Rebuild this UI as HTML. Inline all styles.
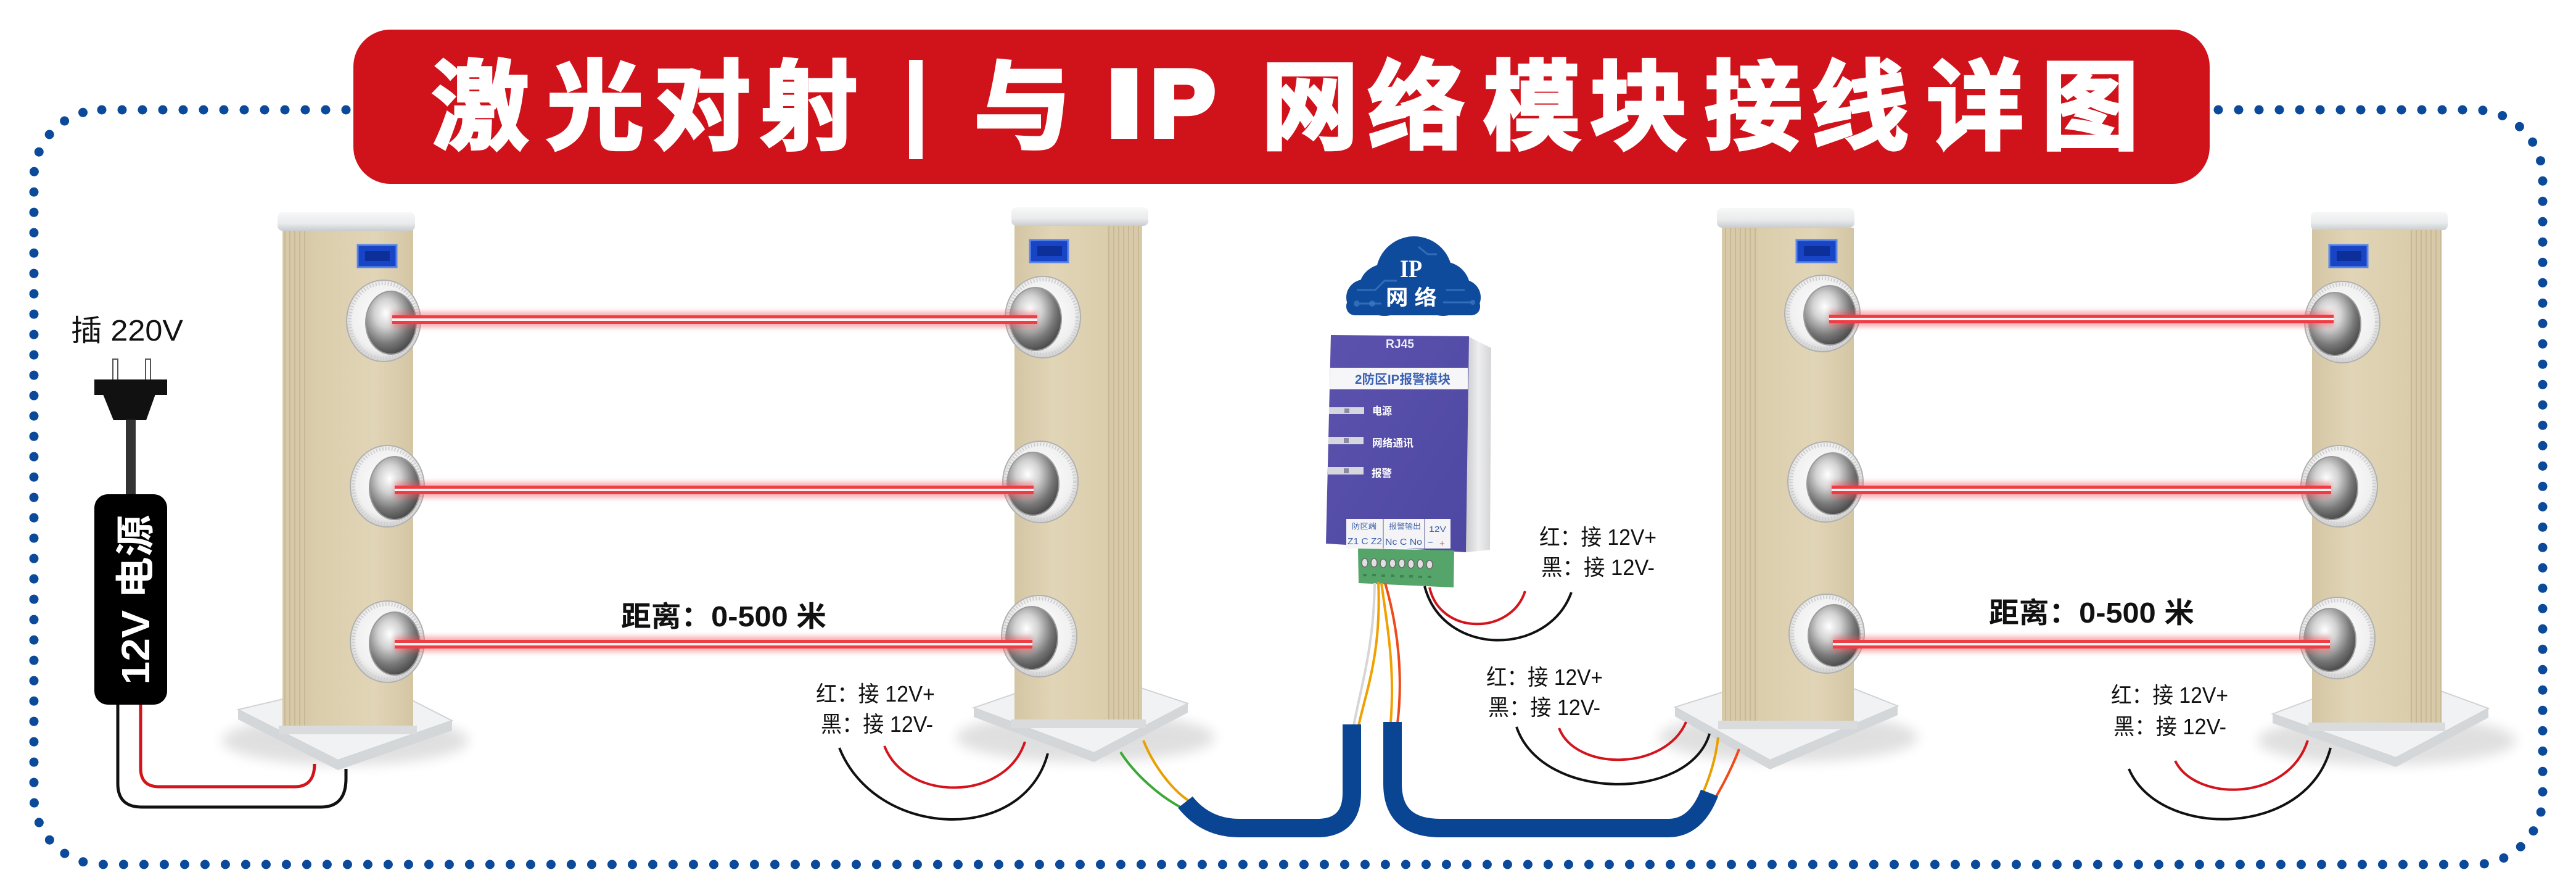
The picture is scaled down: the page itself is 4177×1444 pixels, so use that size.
<!DOCTYPE html>
<html><head><meta charset="utf-8"><style>
html,body{margin:0;padding:0;background:#fff;}
svg{display:block;}
</style></head><body>
<svg width="4177" height="1444" viewBox="0 0 4177 1444" xmlns="http://www.w3.org/2000/svg">
<defs>
  <linearGradient id="bodyL" x1="0" x2="1" y1="0" y2="0">
    <stop offset="0" stop-color="#d0c09d"/><stop offset="0.25" stop-color="#dacdab"/>
    <stop offset="0.7" stop-color="#e1d5b7"/><stop offset="1" stop-color="#d4c6a4"/>
  </linearGradient>
  <linearGradient id="bodyR" x1="0" x2="1" y1="0" y2="0">
    <stop offset="0" stop-color="#d4c6a4"/><stop offset="0.3" stop-color="#e1d5b7"/>
    <stop offset="0.75" stop-color="#dacdab"/><stop offset="1" stop-color="#d0c09d"/>
  </linearGradient>
  <pattern id="ridge" patternUnits="userSpaceOnUse" width="8" height="10">
    <rect width="8" height="10" fill="#d8caa8"/><rect x="5" width="2" height="10" fill="#c8b996"/>
  </pattern>
  <linearGradient id="cap" x1="0" x2="0" y1="0" y2="1">
    <stop offset="0" stop-color="#f7f8f8"/><stop offset="0.6" stop-color="#e9ebec"/><stop offset="1" stop-color="#c9cdcf"/>
  </linearGradient>
  <radialGradient id="ring" cx="0.5" cy="0.45" r="0.6">
    <stop offset="0" stop-color="#ffffff"/><stop offset="0.7" stop-color="#f0f0f0"/><stop offset="1" stop-color="#c4c4c4"/>
  </radialGradient>
  <radialGradient id="chrome" cx="0.4" cy="0.35" r="0.75">
    <stop offset="0" stop-color="#ffffff"/><stop offset="0.3" stop-color="#d2d2d2"/>
    <stop offset="0.65" stop-color="#777777"/><stop offset="1" stop-color="#353535"/>
  </radialGradient>
  <linearGradient id="module" x1="0" x2="1" y1="0" y2="1">
    <stop offset="0" stop-color="#5b52ad"/><stop offset="1" stop-color="#4e48a2"/>
  </linearGradient>
  <linearGradient id="side" x1="0" x2="1">
    <stop offset="0" stop-color="#c9cacc"/><stop offset="0.5" stop-color="#eeeeef"/><stop offset="1" stop-color="#d4d5d7"/>
  </linearGradient>
  <filter id="blur4" x="-5%" y="-100%" width="110%" height="300%"><feGaussianBlur stdDeviation="4"/></filter>
  <filter id="blur10" x="-20%" y="-50%" width="140%" height="200%"><feGaussianBlur stdDeviation="10"/></filter>
</defs>

<rect width="4177" height="1444" fill="#fff"/>

<!-- dotted border -->
<rect x="55" y="178" width="4068" height="1223" rx="110" ry="110" fill="none" stroke="#0b4a9a" stroke-width="15" stroke-dasharray="0 33" stroke-linecap="round"/>

<!-- banner -->
<rect x="573" y="48" width="3010" height="250" rx="60" ry="60" fill="#d0121b"/>
<g font-family="'Noto Sans CJK SC','WenQuanYi Zen Hei',sans-serif" font-weight="bold" font-size="158" fill="#fff" stroke="#fff" stroke-width="5">
  <text x="700" y="229">激</text>
  <text x="886" y="229">光</text>
  <text x="1059" y="229">对</text>
  <text x="1233" y="229">射</text>
  <text x="1579" y="229">与</text>
  <text x="2045" y="229">网</text>
  <text x="2218" y="229">络</text>
  <text x="2405" y="229">模</text>
  <text x="2578" y="229">块</text>
  <text x="2764" y="229">接</text>
  <text x="2937" y="229">线</text>
  <text x="3124" y="229">详</text>
  <text x="3310" y="229">图</text>
</g>
<rect x="1474" y="97" width="22" height="161" fill="#fff"/>
<g font-family="'Liberation Sans',sans-serif" font-weight="bold" font-size="152" fill="#fff" stroke="#fff" stroke-width="10">
  <text x="1795" y="220" textLength="56" lengthAdjust="spacingAndGlyphs">I</text>
  <text x="1866" y="220" textLength="104" lengthAdjust="spacingAndGlyphs">P</text>
</g>

<!-- ============ LEFT POWER ============ -->
<text x="115" y="552" font-family="'Liberation Sans','Noto Sans CJK SC',sans-serif" font-size="48" fill="#111" textLength="182" lengthAdjust="spacingAndGlyphs">插 220V</text>
<rect x="183" y="582" width="8" height="34" fill="#fff" stroke="#555" stroke-width="2"/>
<rect x="236" y="582" width="8" height="34" fill="#fff" stroke="#555" stroke-width="2"/>
<rect x="153" y="615" width="118" height="25" fill="#111"/>
<polygon points="167,639 252,639 237,681 184,681" fill="#111"/>
<rect x="204" y="680" width="16" height="122" fill="#333"/>
<rect x="153" y="801" width="118" height="341" rx="22" fill="#000"/>
<text transform="translate(242,972) rotate(-90)" text-anchor="middle" font-family="'Liberation Sans','Noto Sans CJK SC',sans-serif" font-weight="bold" font-size="64" fill="#fff" textLength="275" lengthAdjust="spacingAndGlyphs">12V 电源</text>
<path d="M191,1142 L191,1270 Q191,1308 230,1308 L520,1308 Q561,1308 561,1262 L561,1246" fill="none" stroke="#111" stroke-width="5"/>
<path d="M228,1142 L228,1245 Q228,1275 258,1275 L478,1275 Q510,1275 510,1238" fill="none" stroke="#d4141c" stroke-width="5"/>

<!-- ============ PILLAR 1 ============ -->
<ellipse cx="560" cy="1200" rx="200" ry="40" fill="#000" opacity="0.12" filter="url(#blur10)"/>
<polygon points="386,1150 600,1100 733,1168 548,1232" fill="#f1f2f3" stroke="#d0d3d5" stroke-width="2"/>
<polygon points="386,1150 548,1232 733,1168 733,1184 548,1248 386,1166" fill="#d3d7da"/>
<rect x="458" y="372" width="212" height="816" fill="url(#bodyL)"/>
<rect x="458" y="372" width="42" height="816" fill="url(#ridge)"/>
<rect x="452" y="1176" width="224" height="14" fill="#d9dbdd"/>
<rect x="450" y="344" width="223" height="30" rx="8" fill="url(#cap)"/>
<rect x="580" y="397" width="63" height="36" fill="#1845c5" stroke="#5b86e8" stroke-width="3"/>
<rect x="592" y="407" width="40" height="16" fill="#0d2f99"/>

<!-- ============ PILLAR 2 ============ -->
<ellipse cx="1760" cy="1195" rx="210" ry="40" fill="#000" opacity="0.12" filter="url(#blur10)"/>
<polygon points="1579,1147 1760,1085 1926,1140 1774,1220" fill="#f1f2f3" stroke="#d0d3d5" stroke-width="2"/>
<polygon points="1579,1147 1774,1220 1926,1140 1926,1155 1774,1235 1579,1162" fill="#d3d7da"/>
<rect x="1645" y="364" width="207" height="814" fill="url(#bodyR)"/>
<rect x="1795" y="364" width="57" height="814" fill="url(#ridge)"/>
<rect x="1639" y="1166" width="219" height="14" fill="#d9dbdd"/>
<rect x="1640" y="336" width="222" height="30" rx="8" fill="url(#cap)"/>
<rect x="1670" y="389" width="62" height="36" fill="#1845c5" stroke="#5b86e8" stroke-width="3"/>
<rect x="1682" y="399" width="40" height="16" fill="#0d2f99"/>

<!-- ============ PILLAR 3 ============ -->
<ellipse cx="2900" cy="1195" rx="210" ry="40" fill="#000" opacity="0.12" filter="url(#blur10)"/>
<polygon points="2716,1146 2920,1082 3077,1144 2870,1232" fill="#f1f2f3" stroke="#d0d3d5" stroke-width="2"/>
<polygon points="2716,1146 2870,1232 3077,1144 3077,1159 2870,1247 2716,1161" fill="#d3d7da"/>
<rect x="2792" y="369" width="214" height="811" fill="url(#bodyL)"/>
<rect x="2792" y="369" width="58" height="811" fill="url(#ridge)"/>
<rect x="2786" y="1168" width="226" height="14" fill="#d9dbdd"/>
<rect x="2784" y="337" width="223" height="32" rx="8" fill="url(#cap)"/>
<rect x="2913" y="389" width="65" height="36" fill="#1845c5" stroke="#5b86e8" stroke-width="3"/>
<rect x="2925" y="399" width="42" height="16" fill="#0d2f99"/>

<!-- ============ PILLAR 4 ============ -->
<ellipse cx="3870" cy="1200" rx="210" ry="40" fill="#000" opacity="0.12" filter="url(#blur10)"/>
<polygon points="3685,1157 3870,1088 4035,1148 3885,1228" fill="#f1f2f3" stroke="#d0d3d5" stroke-width="2"/>
<polygon points="3685,1157 3885,1228 4035,1148 4035,1163 3885,1243 3685,1172" fill="#d3d7da"/>
<rect x="3749" y="371" width="210" height="812" fill="url(#bodyR)"/>
<rect x="3908" y="371" width="51" height="812" fill="url(#ridge)"/>
<rect x="3743" y="1171" width="222" height="14" fill="#d9dbdd"/>
<rect x="3747" y="343" width="222" height="30" rx="8" fill="url(#cap)"/>
<rect x="3777" y="397" width="62" height="36" fill="#1845c5" stroke="#5b86e8" stroke-width="3"/>
<rect x="3789" y="407" width="40" height="16" fill="#0d2f99"/>

<!-- ============ LENSES ============ -->
<g stroke="#b0b0b0" stroke-width="2">
  <ellipse cx="622" cy="520" rx="60" ry="66" fill="url(#ring)"/>
  <ellipse cx="628" cy="788" rx="60" ry="66" fill="url(#ring)"/>
  <ellipse cx="628" cy="1040" rx="60" ry="66" fill="url(#ring)"/>
  <ellipse cx="1691" cy="514" rx="61" ry="66" fill="url(#ring)"/>
  <ellipse cx="1687" cy="781" rx="61" ry="66" fill="url(#ring)"/>
  <ellipse cx="1685" cy="1031" rx="61" ry="66" fill="url(#ring)"/>
  <ellipse cx="2955" cy="508" rx="61" ry="62" fill="url(#ring)"/>
  <ellipse cx="2960" cy="781" rx="61" ry="65" fill="url(#ring)"/>
  <ellipse cx="2962" cy="1027" rx="61" ry="64" fill="url(#ring)"/>
  <ellipse cx="3798" cy="522" rx="61" ry="66" fill="url(#ring)"/>
  <ellipse cx="3793" cy="788" rx="62" ry="66" fill="url(#ring)"/>
  <ellipse cx="3790" cy="1034" rx="61" ry="66" fill="url(#ring)"/>
</g>
<g fill="none" stroke="#cfcfcf" stroke-width="6" stroke-dasharray="2 3">
  <ellipse cx="622" cy="520" rx="55" ry="61"/><ellipse cx="628" cy="788" rx="55" ry="61"/><ellipse cx="628" cy="1040" rx="55" ry="61"/>
  <ellipse cx="1691" cy="514" rx="56" ry="61"/><ellipse cx="1687" cy="781" rx="56" ry="61"/><ellipse cx="1685" cy="1031" rx="56" ry="61"/>
  <ellipse cx="2955" cy="508" rx="56" ry="57"/><ellipse cx="2960" cy="781" rx="56" ry="60"/><ellipse cx="2962" cy="1027" rx="56" ry="59"/>
  <ellipse cx="3798" cy="522" rx="56" ry="61"/><ellipse cx="3793" cy="788" rx="57" ry="61"/><ellipse cx="3790" cy="1034" rx="56" ry="61"/>
</g>
<g fill="url(#chrome)" stroke="#9a9a9a" stroke-width="2">
  <ellipse cx="634" cy="523" rx="41" ry="51"/><ellipse cx="640" cy="791" rx="41" ry="51"/><ellipse cx="640" cy="1043" rx="41" ry="51"/>
  <ellipse cx="1679" cy="517" rx="42" ry="51"/><ellipse cx="1675" cy="784" rx="42" ry="51"/><ellipse cx="1673" cy="1034" rx="42" ry="51"/>
  <ellipse cx="2967" cy="511" rx="42" ry="48"/><ellipse cx="2972" cy="784" rx="42" ry="50"/><ellipse cx="2974" cy="1030" rx="42" ry="50"/>
  <ellipse cx="3786" cy="525" rx="42" ry="51"/><ellipse cx="3781" cy="791" rx="42" ry="51"/><ellipse cx="3778" cy="1037" rx="42" ry="51"/>
</g>

<!-- ============ BEAMS ============ -->
<g>
  <g opacity="0.45" filter="url(#blur4)" fill="#f25a60">
    <rect x="636" y="505" width="1046" height="26"/>
    <rect x="640" y="781" width="1036" height="26"/>
    <rect x="640" y="1031" width="1034" height="26"/>
    <rect x="2966" y="504" width="818" height="26"/>
    <rect x="2970" y="781" width="810" height="26"/>
    <rect x="2972" y="1031" width="806" height="26"/>
  </g>
  <g fill="#ee3d45">
    <rect x="636" y="511" width="1046" height="14"/>
    <rect x="640" y="787" width="1036" height="14"/>
    <rect x="640" y="1037" width="1034" height="14"/>
    <rect x="2966" y="510" width="818" height="14"/>
    <rect x="2970" y="787" width="810" height="14"/>
    <rect x="2972" y="1037" width="806" height="14"/>
  </g>
  <g fill="#fff3f3">
    <rect x="636" y="516" width="1046" height="4"/>
    <rect x="640" y="792" width="1036" height="4"/>
    <rect x="640" y="1042" width="1034" height="4"/>
    <rect x="2966" y="515" width="818" height="4"/>
    <rect x="2970" y="792" width="810" height="4"/>
    <rect x="2972" y="1042" width="806" height="4"/>
  </g>
</g>

<!-- distance labels -->
<g font-family="'Liberation Sans','Noto Sans CJK SC',sans-serif" font-weight="bold" font-size="46" fill="#111">
  <text x="1007" y="1015" textLength="333" lengthAdjust="spacingAndGlyphs">距离：0-500 米</text>
  <text x="3225" y="1009" textLength="333" lengthAdjust="spacingAndGlyphs">距离：0-500 米</text>
</g>

<!-- ============ CLOUD ============ -->
<g fill="#0f4b9c">
  <circle cx="2293" cy="445" r="62"/>
  <circle cx="2245" cy="470" r="42"/>
  <circle cx="2340" cy="468" r="44"/>
  <circle cx="2212" cy="482" r="29"/>
  <circle cx="2372" cy="482" r="29"/>
  <rect x="2205" y="470" width="170" height="41"/>
  <rect x="2183" y="482" width="217" height="29" rx="14"/>
</g>
<g stroke="#3d7bc6" stroke-width="3" fill="none" opacity="0.7">
  <path d="M2200,470 L2230,470 L2245,455 L2265,455"/>
  <path d="M2205,492 L2240,492"/>
  <path d="M2345,470 L2375,470"/>
  <path d="M2340,490 L2385,490"/>
  <path d="M2300,400 L2315,412 L2330,412"/>
</g>
<g fill="#3d7bc6" opacity="0.7"><circle cx="2200" cy="492" r="5"/><circle cx="2225" cy="492" r="5"/><circle cx="2388" cy="490" r="4"/></g>
<text x="2270" y="449" font-family="'Liberation Serif',serif" font-weight="bold" font-size="40" fill="#fff" textLength="36" lengthAdjust="spacingAndGlyphs">IP</text>
<text x="2247" y="494" font-family="'Liberation Sans','Noto Sans CJK SC',sans-serif" font-weight="bold" font-size="34" fill="#fff" textLength="83" lengthAdjust="spacingAndGlyphs">网 络</text>

<!-- ============ MODULE ============ -->
<polygon points="2380,545 2418,564 2416,891 2377,895" fill="url(#side)"/>
<polygon points="2158,543 2382,545 2377,895 2150,881" fill="url(#module)"/>
<text x="2247" y="564" font-family="'Liberation Sans',sans-serif" font-weight="bold" font-size="20" fill="#ececf4" textLength="46" lengthAdjust="spacingAndGlyphs">RJ45</text>
<polygon points="2157,596 2380,596 2380,631 2156,631" fill="#f6f6f8"/>
<text x="2197" y="622" font-family="'Liberation Sans','Noto Sans CJK SC',sans-serif" font-weight="bold" font-size="21" fill="#3d63b5" textLength="155" lengthAdjust="spacingAndGlyphs">2防区IP报警模块</text>
<g fill="#d6d6de"><rect x="2155" y="660" width="57" height="11"/><rect x="2154" y="708" width="57" height="12"/><rect x="2153" y="757" width="58" height="12"/></g>
<g fill="#8a8aa0"><rect x="2180" y="662" width="8" height="7"/><rect x="2179" y="710" width="8" height="8"/><rect x="2179" y="759" width="8" height="8"/></g>
<g font-family="'Liberation Sans','Noto Sans CJK SC',sans-serif" font-weight="bold" font-size="17" fill="#fff">
  <text x="2225" y="672" textLength="32" lengthAdjust="spacingAndGlyphs">电源</text>
  <text x="2225" y="724" textLength="67" lengthAdjust="spacingAndGlyphs">网络通讯</text>
  <text x="2224" y="773" textLength="33" lengthAdjust="spacingAndGlyphs">报警</text>
</g>
<rect x="2183" y="841" width="169" height="48" fill="#f4f4f7"/>
<line x1="2243" y1="841" x2="2243" y2="889" stroke="#8c8cb0" stroke-width="1.5"/>
<line x1="2310" y1="841" x2="2310" y2="889" stroke="#8c8cb0" stroke-width="1.5"/>
<g font-family="'Liberation Sans','Noto Sans CJK SC',sans-serif" fill="#3d5fa8">
  <text x="2192" y="857" font-size="12" textLength="40" lengthAdjust="spacingAndGlyphs">防区端</text>
  <text x="2252" y="857" font-size="12" textLength="52" lengthAdjust="spacingAndGlyphs">报警输出</text>
  <text x="2317" y="862" font-size="13" textLength="28" lengthAdjust="spacingAndGlyphs">12V</text>
  <text x="2185" y="882" font-size="15" textLength="56" lengthAdjust="spacingAndGlyphs">Z1 C Z2</text>
  <text x="2246" y="883" font-size="15" textLength="60" lengthAdjust="spacingAndGlyphs">Nc C No</text>
  <text x="2315" y="884" font-size="15">−</text>
  <text x="2334" y="886" font-size="15" fill="#d05a5a">+</text>
</g>
<polygon points="2202,889 2358,892 2357,952 2203,945" fill="#55a56a"/>
<g fill="#e0e0e0" stroke="#6a6a6a" stroke-width="1.5">
  <ellipse cx="2213" cy="912" rx="5" ry="7"/><ellipse cx="2228" cy="912" rx="5" ry="7"/><ellipse cx="2243" cy="913" rx="5" ry="7"/><ellipse cx="2258" cy="913" rx="5" ry="7"/>
  <ellipse cx="2273" cy="913" rx="5" ry="7"/><ellipse cx="2288" cy="914" rx="5" ry="7"/><ellipse cx="2303" cy="914" rx="5" ry="7"/><ellipse cx="2318" cy="915" rx="5" ry="7"/>
</g>
<g fill="#3c8350">
  <rect x="2210" y="930" width="6" height="4"/><rect x="2225" y="930" width="6" height="4"/><rect x="2240" y="931" width="6" height="4"/><rect x="2255" y="931" width="6" height="4"/>
  <rect x="2270" y="932" width="6" height="4"/><rect x="2285" y="932" width="6" height="4"/><rect x="2300" y="933" width="6" height="4"/><rect x="2315" y="933" width="6" height="4"/>
</g>

<!-- ============ WIRES ============ -->
<g fill="none" stroke-width="4">
  <path d="M2310,950 C2340,1065 2510,1065 2548,960" stroke="#111"/>
  <path d="M2318,952 C2335,1030 2450,1030 2473,958" stroke="#d4141c"/>
  <path d="M1361,1212 C1420,1360 1660,1370 1699,1221" stroke="#111"/>
  <path d="M1434,1209 C1470,1300 1630,1300 1662,1202" stroke="#d4141c"/>
  <path d="M2459,1178 C2500,1300 2740,1300 2772,1189" stroke="#111"/>
  <path d="M2528,1180 C2555,1250 2700,1250 2734,1170" stroke="#d4141c"/>
  <path d="M3452,1246 C3500,1360 3740,1360 3779,1212" stroke="#111"/>
  <path d="M3527,1233 C3560,1300 3710,1300 3742,1200" stroke="#d4141c"/>
  <path d="M2229,945 C2228,1050 2205,1120 2195,1176" stroke="#d6d6d6"/>
  <path d="M2235,943 C2240,1060 2215,1120 2203,1176" stroke="#f0a000"/>
  <path d="M2240,945 C2250,1020 2262,1080 2255,1172" stroke="#f0a000"/>
  <path d="M2246,945 C2268,1020 2275,1100 2266,1172" stroke="#ee4a1a"/>
  <path d="M1817,1219 C1840,1255 1880,1290 1914,1308" stroke="#3aaa35"/>
  <path d="M1854,1200 C1870,1240 1900,1280 1928,1298" stroke="#e8a000"/>
  <path d="M2786,1195 C2782,1230 2772,1260 2762,1283" stroke="#e8a000"/>
  <path d="M2820,1214 C2808,1245 2795,1270 2782,1292" stroke="#ee4a1a"/>
</g>

<!-- blue cables -->
<g fill="none" stroke="#0a4593" stroke-width="30">
  <path d="M1922,1300 Q1955,1342 2010,1342 L2135,1342 Q2192,1342 2192,1285 L2192,1174"/>
  <path d="M2258,1170 L2258,1270 Q2258,1342 2335,1342 L2705,1342 Q2750,1342 2772,1285"/>
</g>

<!-- 12V labels -->
<g font-family="'Liberation Sans','Noto Sans CJK SC',sans-serif" font-size="36" fill="#111">
  <text x="1323" y="1137" textLength="193" lengthAdjust="spacingAndGlyphs">红：接 12V+</text>
  <text x="1331" y="1186" textLength="182" lengthAdjust="spacingAndGlyphs">黑：接 12V-</text>
  <text x="2496" y="883" textLength="190" lengthAdjust="spacingAndGlyphs">红：接 12V+</text>
  <text x="2499" y="932" textLength="184" lengthAdjust="spacingAndGlyphs">黑：接 12V-</text>
  <text x="2410" y="1110" textLength="189" lengthAdjust="spacingAndGlyphs">红：接 12V+</text>
  <text x="2413" y="1159" textLength="182" lengthAdjust="spacingAndGlyphs">黑：接 12V-</text>
  <text x="3423" y="1139" textLength="190" lengthAdjust="spacingAndGlyphs">红：接 12V+</text>
  <text x="3427" y="1190" textLength="183" lengthAdjust="spacingAndGlyphs">黑：接 12V-</text>
</g>
</svg>
</body></html>
